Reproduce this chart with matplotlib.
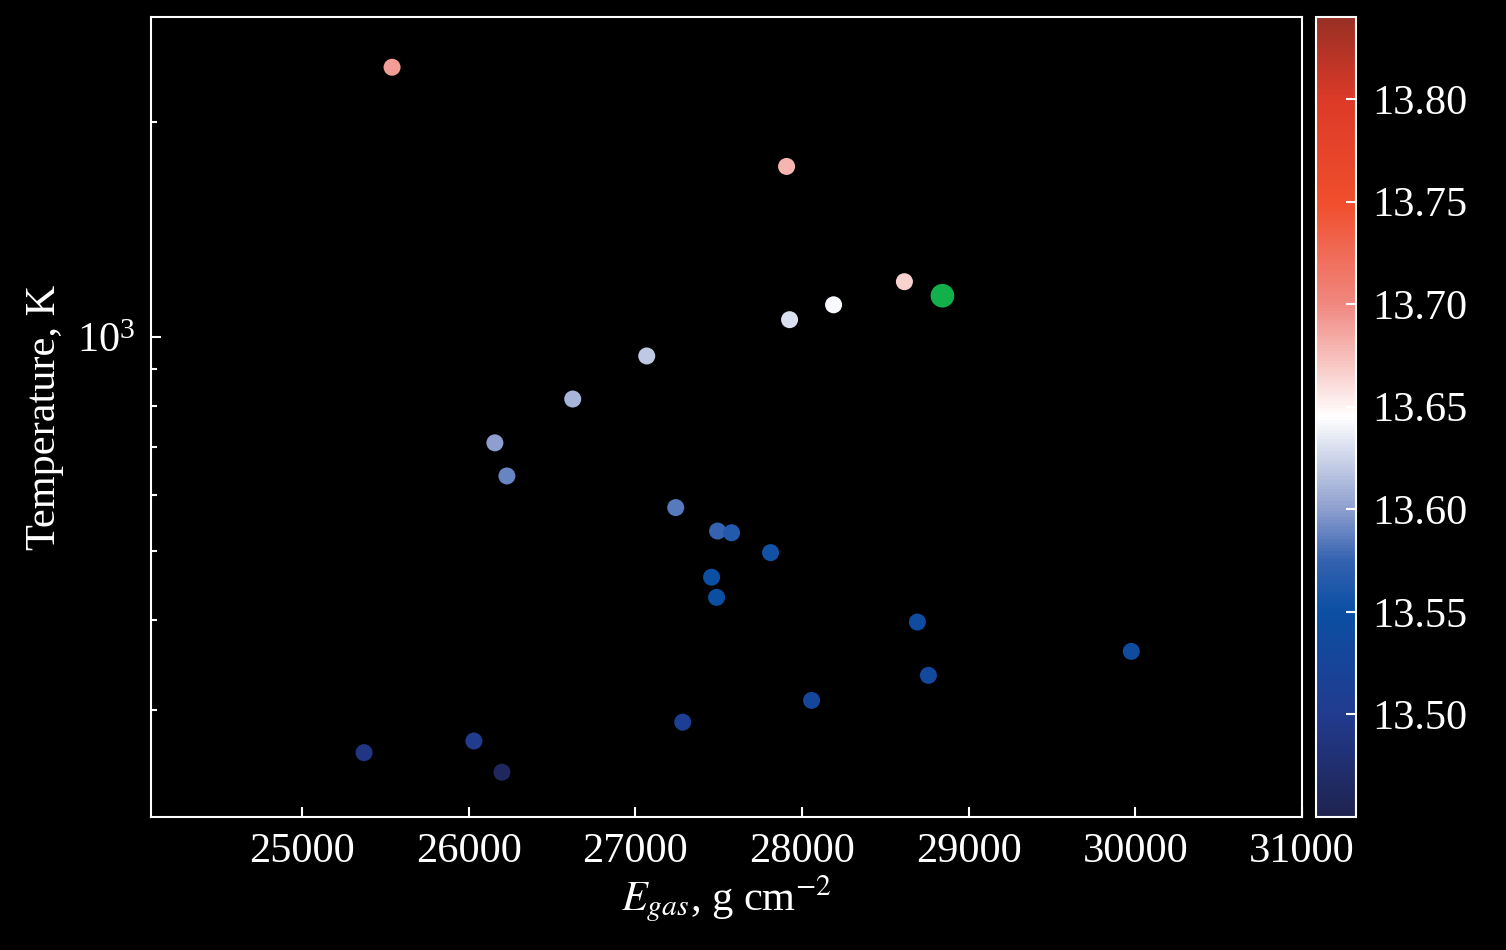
import numpy as np
import matplotlib
matplotlib.use("Agg")
import matplotlib.pyplot as plt
from matplotlib.colors import LinearSegmentedColormap, Normalize

# gas surface density, temperature and colour value for every point
e_gas = [25540, 27907, 28614, 28189, 27925, 27068, 26624, 26157, 26229, 27242,
         27493, 27577, 27811, 27457, 27487, 28692, 29975, 28758, 28057, 27284,
         26031, 25372, 26199]
temperature = [2389, 1734, 1195, 1109, 1057, 940, 818, 710, 638, 576,
               534, 531, 498, 460, 431, 398, 362, 335, 309, 288,
               271, 261, 245]
color_val = [13.69, 13.68, 13.665, 13.642, 13.63, 13.62, 13.61, 13.60, 13.59, 13.585,
             13.575, 13.565, 13.555, 13.55, 13.55, 13.54, 13.54, 13.535, 13.53, 13.51,
             13.50, 13.49, 13.46]

# highlighted point
hl_e_gas = [28842]
hl_temperature = [1142]

cbar_ticks = [13.50, 13.55, 13.60, 13.65, 13.70, 13.75, 13.80]
vmin, vmax = 13.45, 13.84

plt.rcParams['font.family'] = ['Liberation Serif', 'DejaVu Serif']
plt.rcParams['mathtext.fontset'] = 'stix'
plt.rcParams['font.size'] = 30.5

# balance-like diverging map
anchors = [(0.0, "#1f2350"), (0.128, "#213b8f"), (0.256, "#0b4fa3"), (0.32, "#3462b0"),
           (0.385, "#8e9fcf"), (0.5, "#ffffff"), (0.641, "#f08880"), (0.769, "#f04e2c"),
           (0.897, "#dd3a28"), (1.0, "#993025")]
cmap = LinearSegmentedColormap.from_list("balance_like", anchors)
norm = Normalize(vmin=vmin, vmax=vmax)

fig = plt.figure(figsize=(15.06, 9.5), dpi=100, facecolor="black")
ax = fig.add_axes([0.1003, 0.14, 0.7643, 0.8421], facecolor="black")
cax = fig.add_axes([0.8738, 0.14, 0.02656, 0.8421])

sc = ax.scatter(e_gas, temperature, c=color_val, cmap=cmap, norm=norm, s=150, edgecolors="none")
ax.scatter(hl_e_gas, hl_temperature, color="#12b04a", s=290, edgecolors="none")

ax.set_yscale("log")
ax.set_xlim(24094, 31000)
ax.set_ylim(212, 2810)
ax.set_xticks([25000, 26000, 27000, 28000, 29000, 30000, 31000])

for side in ax.spines.values():
    side.set_color("white")
    side.set_linewidth(1.5)
ax.tick_params(which="both", direction="in", colors="white", width=1.5, top=False, right=False)
ax.tick_params(which="major", length=7, pad=11)
ax.tick_params(which="minor", length=4)
ax.yaxis.set_minor_formatter(matplotlib.ticker.NullFormatter())

ax.set_xlabel(r"$E_{gas}$, g cm$^{-2}$", color="white", labelpad=2)
ax.set_ylabel("Temperature, K", color="white", labelpad=10)

cb = fig.colorbar(sc, cax=cax, ticks=cbar_ticks)
cb.outline.set_edgecolor("white")
cb.outline.set_linewidth(1.5)
cb.ax.tick_params(direction="in", colors="white", width=1.5, length=7, pad=12)
cb.ax.set_yticklabels(["{:.2f}".format(t) for t in cbar_ticks])

fig.savefig("out.png", dpi=100, facecolor="black")
